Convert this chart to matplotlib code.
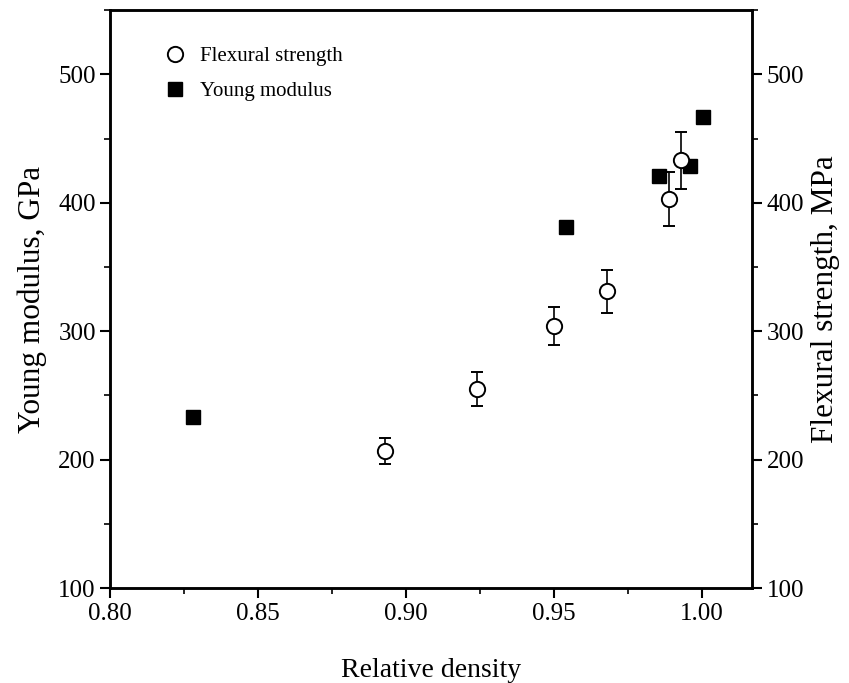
import numpy as np
import matplotlib.pyplot as plt
from matplotlib.ticker import MultipleLocator

plt.rcParams['font.family'] = ['Liberation Serif', 'DejaVu Serif']

# Young modulus (GPa)
ym_density = [0.828, 0.954, 0.9855, 0.996, 1.0005]
ym_values = [233, 381, 421, 429, 467]

# Flexural strength (MPa)
fs_density = [0.893, 0.924, 0.950, 0.968, 0.989, 0.993]
fs_values = [207, 255, 304, 331, 403, 433]
fs_err = [10, 13, 15, 17, 21, 22]

fig = plt.figure(figsize=(8.49, 6.83), dpi=100)
ax = fig.add_axes([0.130, 0.139, 0.756, 0.846])
ax2 = ax.twinx()

sq, = ax.plot(ym_density, ym_values, 's', color='black', markersize=10, linestyle='none')
eb = ax2.errorbar(fs_density, fs_values, yerr=fs_err, fmt='o', mfc='white', mec='black',
                  ecolor='black', markersize=11, mew=1.4, capsize=4, elinewidth=1.2, capthick=1.2)

ax.set_xlim(0.80, 1.017)
ax.set_ylim(100, 550)
ax2.set_ylim(100, 550)

ax.set_xticks([0.80, 0.85, 0.90, 0.95, 1.00])
ax.xaxis.set_minor_locator(MultipleLocator(0.025))
for a in (ax, ax2):
    a.yaxis.set_major_locator(MultipleLocator(100))
    a.yaxis.set_minor_locator(MultipleLocator(50))
    a.tick_params(which='major', direction='out', length=7, width=1.5, labelsize=18)
    a.tick_params(which='minor', direction='out', length=4, width=1.2)
    for s in a.spines.values():
        s.set_linewidth(1.8)
ax.tick_params(top=False, which='both')
ax.set_yticks([100, 200, 300, 400, 500])
ax2.set_yticks([100, 200, 300, 400, 500])

ax.set_xlabel('Relative density', fontsize=20, labelpad=24)
ax.set_ylabel('Young modulus, GPa', fontsize=22.5, labelpad=8)
ax2.set_ylabel('Flexural strength, MPa', fontsize=22.5, labelpad=5)

ax.legend([eb[0], sq], ['Flexural strength', 'Young modulus'], loc='upper left',
          bbox_to_anchor=(0.039, 0.97), frameon=False, fontsize=15, handletextpad=0.2,
          labelspacing=0.75)

fig.savefig('out.png', dpi=100)
